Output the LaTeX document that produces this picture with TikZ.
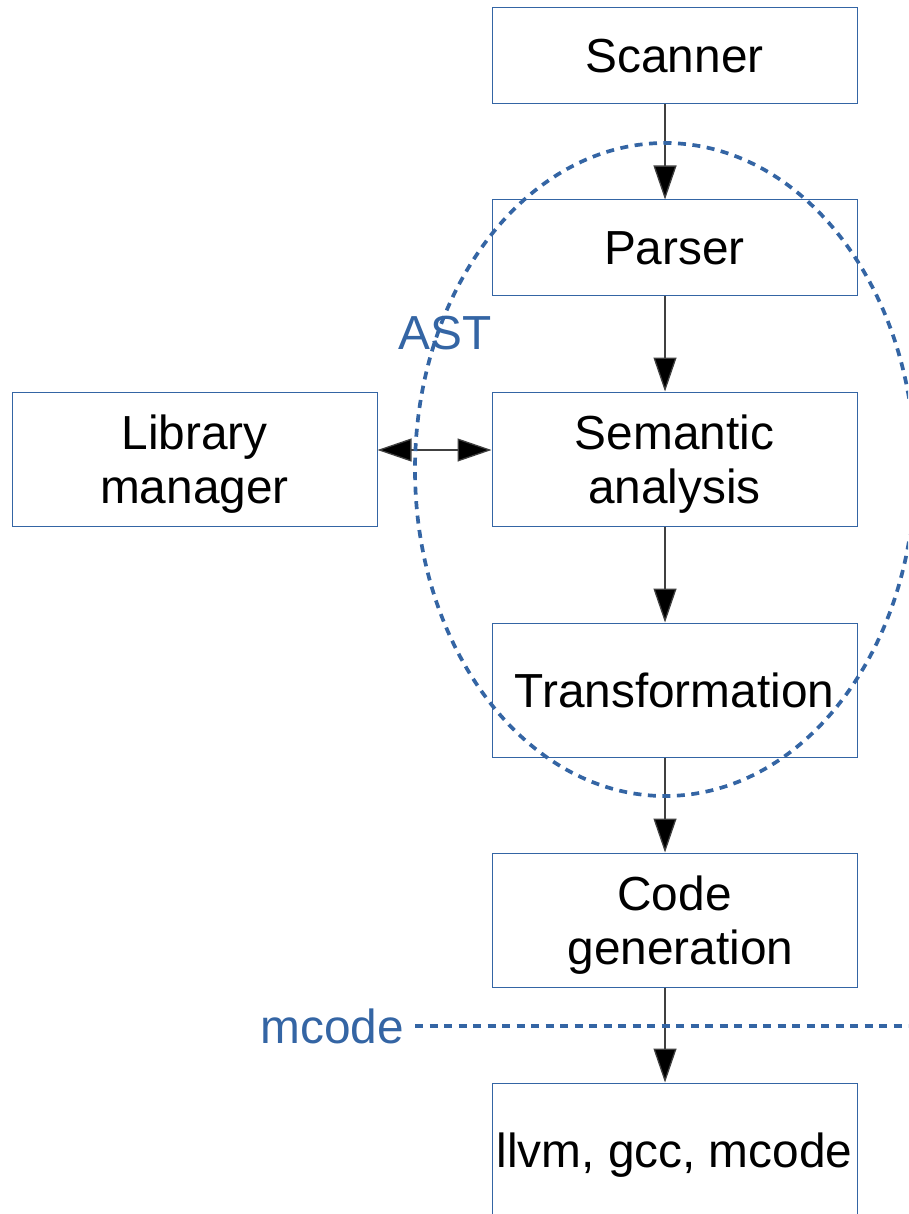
\documentclass[tikz,border=0pt]{standalone}
\usepackage{fontspec}
\setmainfont{Liberation Sans}
\usetikzlibrary{arrows.meta}
\definecolor{boxblue}{HTML}{3465A4}
\tikzset{
  stagebox/.style={draw=boxblue, line width=1pt, minimum width=365pt, align=center, inner sep=0pt,
    font=\fontsize{47.8}{54}\selectfont},
  twotext/.style={align=center, inner sep=0pt, yshift=-5pt, font=\fontsize{47.8}{54}\selectfont},
  flow/.style={draw=black!75, line width=1.3pt, -{Triangle[length=34pt,width=23pt,fill=black]}},
  biflow/.style={draw=black!75, line width=1.3pt, {Triangle[length=34pt,width=23pt,fill=black]}-{Triangle[length=34pt,width=23pt,fill=black]}},
  bluedash/.style={draw=boxblue, line width=3.7pt, dash pattern=on 8pt off 6.5pt},
  bluelabel/.style={text=boxblue, inner sep=0pt, font=\fontsize{47.8}{54}\selectfont}
}
\begin{document}
\begin{tikzpicture}[x=1pt,y=-1pt]
\useasboundingbox (0,0) rectangle (908,1214);
\clip (0,0) rectangle (908,1214);
\node[stagebox, minimum height=96pt] (scanner) at (674.5,56) {Scanner};
\node[stagebox, minimum height=96pt] (parser) at (674.5,248) {Parser};
\node[stagebox, minimum height=134pt, label={[twotext]center:{Semantic\\analysis}}] (semantic) at (674.5,459) {};
\node[stagebox, minimum height=134pt] (transf) at (674.5,690) {Transformation};
\node[stagebox, minimum height=134pt, label={[twotext]center:{Code\\\hspace*{12pt}generation}}] (codegen) at (674.5,920) {};
\node[stagebox, minimum height=134pt, label={[twotext]center:{llvm, gcc, mcode}}] (llvm) at (674.5,1150) {};
\node[stagebox, minimum height=134pt, label={[twotext]center:{Library\\manager}}] (library) at (194.5,459) {};

\draw[flow] ([xshift=-9.5pt]scanner.south) -- ([xshift=-9.5pt]parser.north);
\draw[flow] ([xshift=-9.5pt]parser.south) -- ([xshift=-9.5pt]semantic.north);
\draw[flow] ([xshift=-9.5pt]semantic.south) -- ([xshift=-9.5pt]transf.north);
\draw[flow] ([xshift=-9.5pt]transf.south) -- ([xshift=-9.5pt]codegen.north);
\draw[flow] ([xshift=-9.5pt]codegen.south) -- ([xshift=-9.5pt]llvm.north);
\draw[biflow] ([yshift=9pt]library.east) -- ([yshift=9pt]semantic.west);

\draw[bluedash] (665,469.5) ellipse [x radius=250, y radius=326.5];
\node[bluelabel] (ast) at (445,333) {AST};

\coordinate (mstart) at (415,1026);
\coordinate (mend) at (912,1026);
\draw[bluedash] (mstart) -- (mend);
\node[bluelabel, anchor=east] (mcode) at (404,1026) {mcode};
\end{tikzpicture}
\end{document}
